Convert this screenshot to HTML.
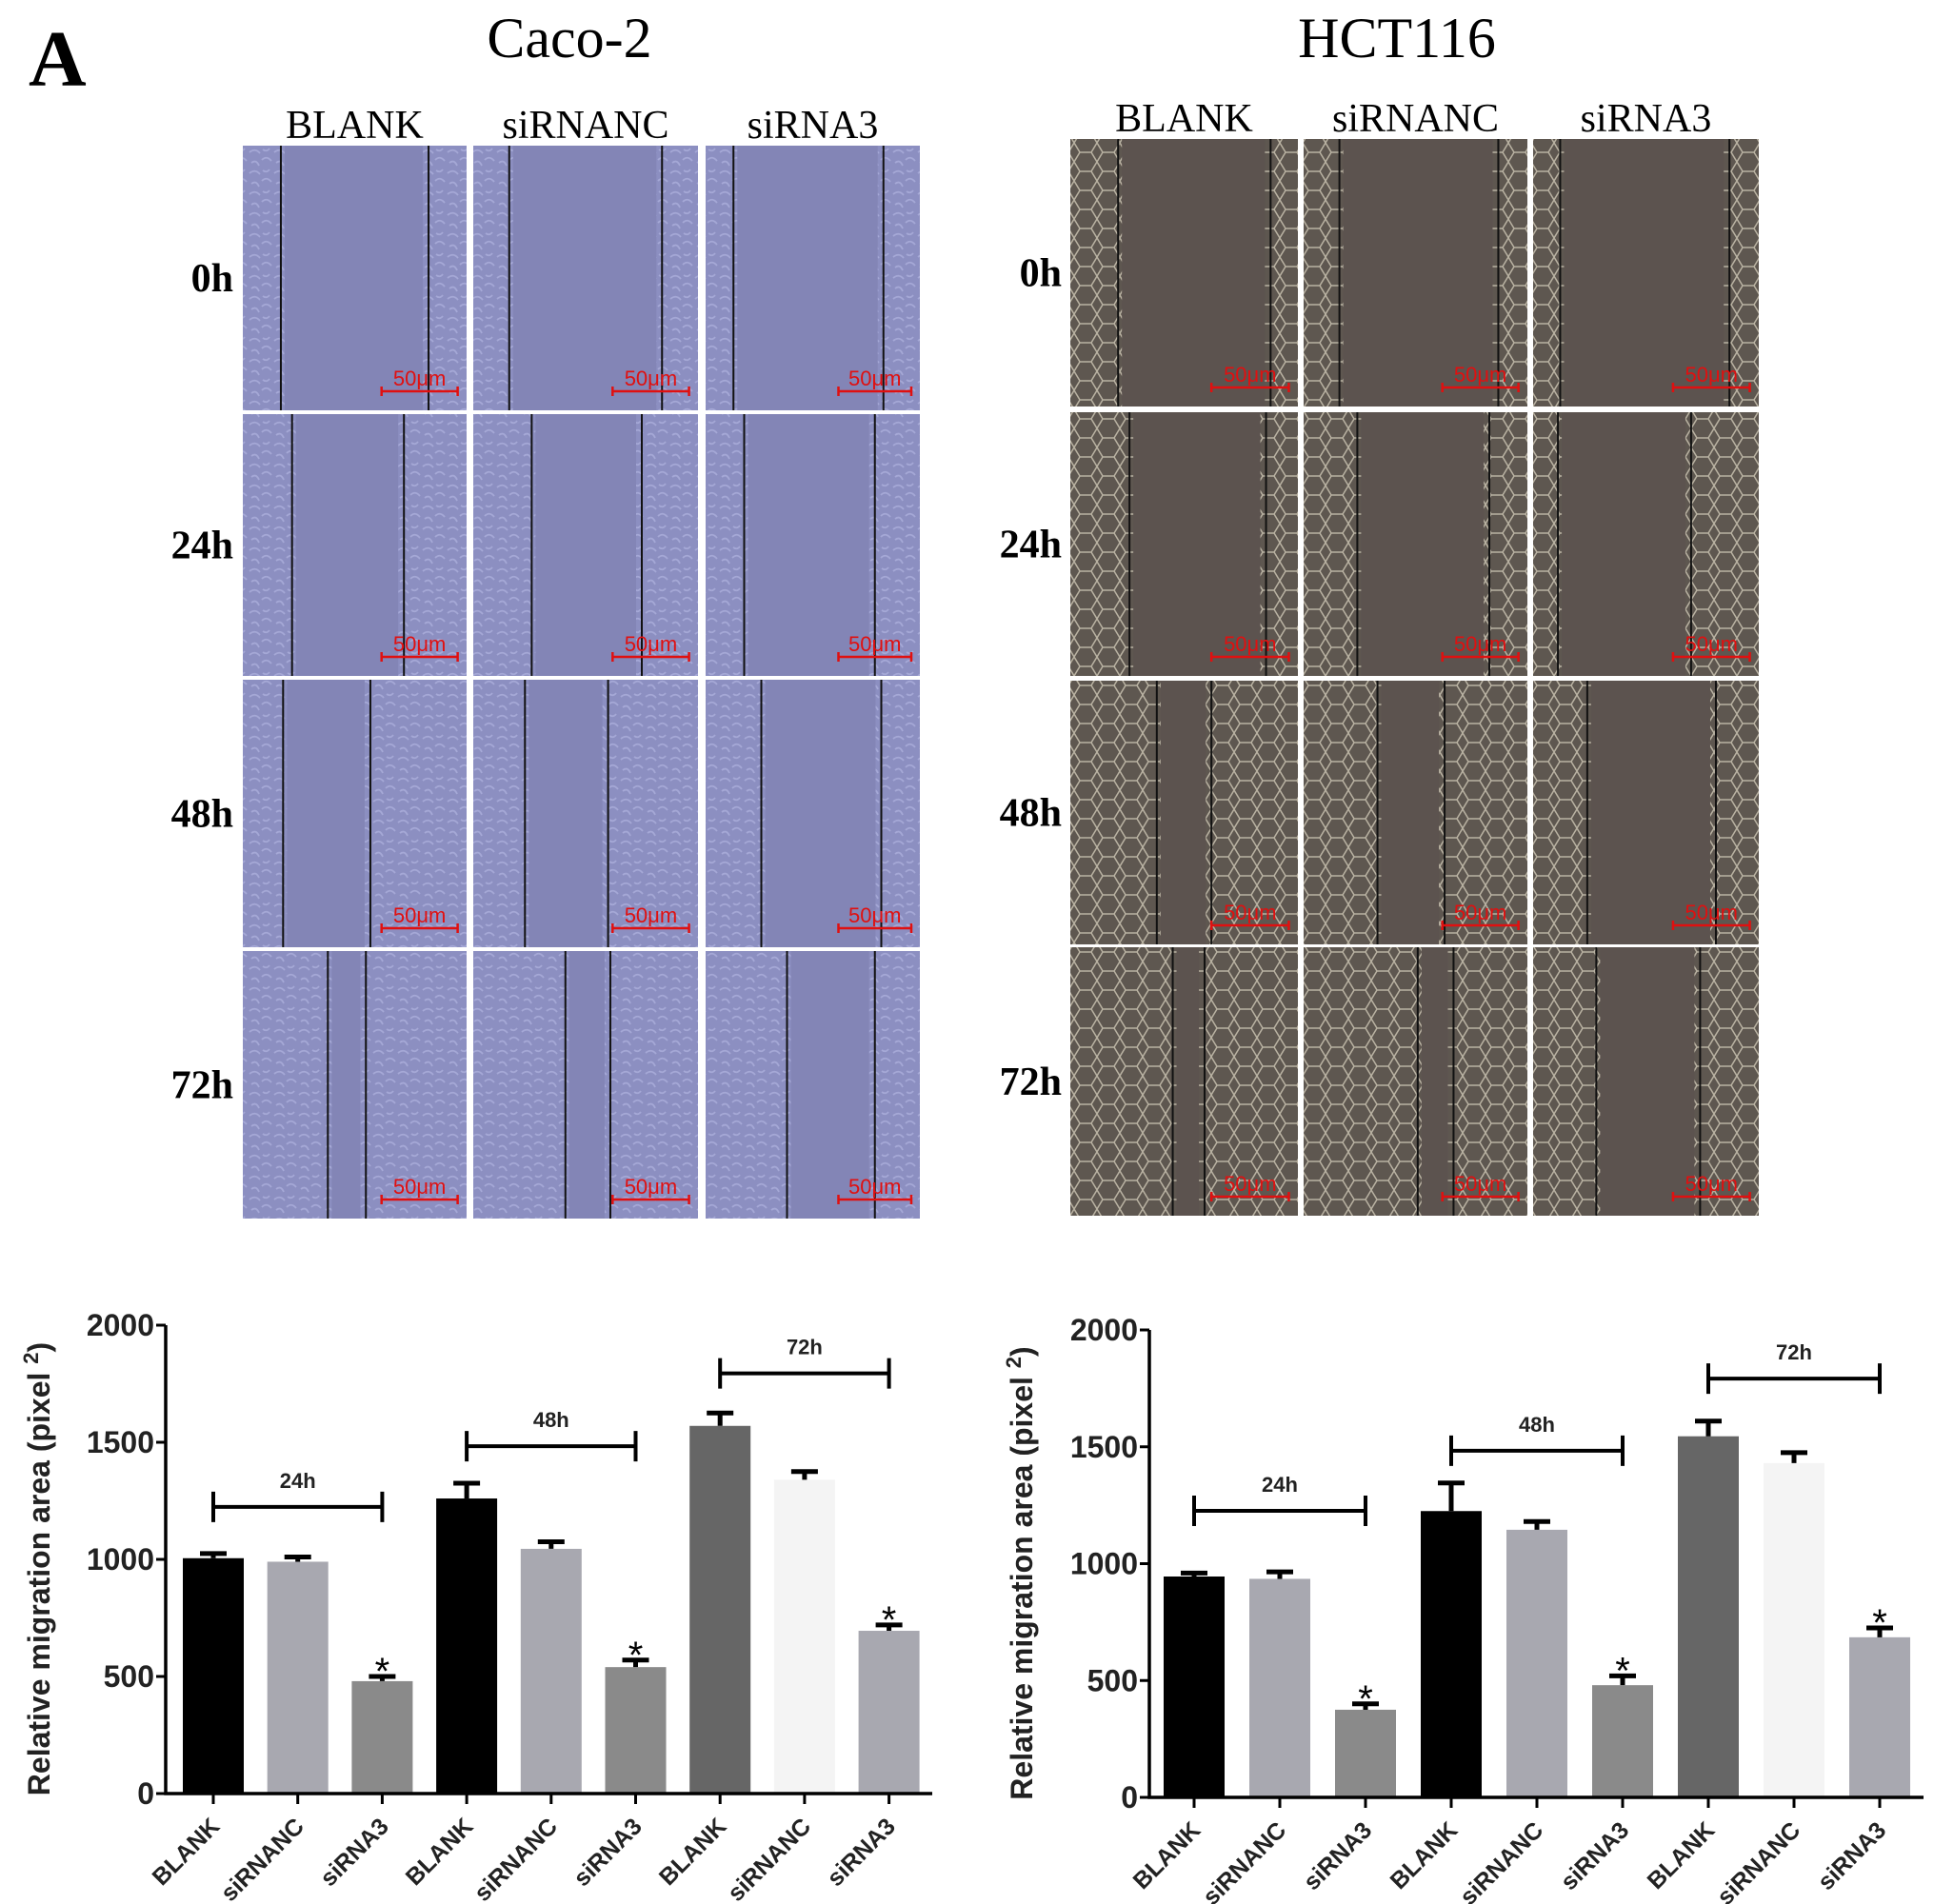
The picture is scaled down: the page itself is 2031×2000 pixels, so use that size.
<!DOCTYPE html>
<html><head><meta charset="utf-8">
<style>
html,body{margin:0;padding:0;background:#fff;}
svg{display:block;}
</style></head>
<body>
<svg id="fig" width="2031" height="2000" viewBox="0 0 2031 2000" xmlns="http://www.w3.org/2000/svg">
<defs>
<pattern id="cacoCells" width="26" height="22" patternUnits="userSpaceOnUse">
<rect width="26" height="22" fill="#8c8fc1"/>
<path d="M2 6 Q8 1 13 7 M15 14 Q20 9 25 15 M4 17 Q9 13 12 20 M16 3 Q20 6 23 2" stroke="#a5a8d6" stroke-width="1.8" fill="none"/>
</pattern>
<pattern id="hctCells" width="24" height="20" patternUnits="userSpaceOnUse">
<rect width="24" height="20" fill="#5e5750"/>
<path d="M0 10 L6 0 L18 0 L24 10 L18 20 L6 20 Z" stroke="#b9b2a2" stroke-width="1.5" fill="none"/>
</pattern>
</defs>
<text x="30" y="90" font-family="Liberation Serif, serif" font-size="84" font-weight="bold">A</text>
<text x="598" y="60" text-anchor="middle" font-family="Liberation Serif, serif" font-size="60">Caco-2</text>
<text x="1467" y="60" text-anchor="middle" font-family="Liberation Serif, serif" font-size="60">HCT116</text>
<g id="micro"></g>
<g id="charts"></g>
</svg>
<script>
// ---- Chart data ----
const categories = ["BLANK","siRNANC","siRNA3","BLANK","siRNANC","siRNA3","BLANK","siRNANC","siRNA3"];
const cacoValues = [1005, 990, 480, 1260, 1045, 540, 1570, 1340, 695];
const cacoErrors = [20, 20, 20, 65, 30, 30, 55, 35, 25];
const hctValues = [945, 935, 375, 1225, 1145, 480, 1545, 1430, 685];
const hctErrors = [15, 30, 25, 120, 35, 40, 65, 45, 40];
const yTicks = [0, 500, 1000, 1500, 2000];
const groupLabels = ["24h", "48h", "72h"];
const cacoBrackets = [1224, 1483, 1794];
const hctBrackets = [1226, 1483, 1792];
const starFlags = [0,0,1,0,0,1,0,0,1];
const rowLabels = ["0h","24h","48h","72h"];
const colLabels = ["BLANK","siRNANC","siRNA3"];

const NS = "http://www.w3.org/2000/svg";
function mk(tag, attrs, parent, txt){
  const e = document.createElementNS(NS, tag);
  for (const k in attrs) e.setAttribute(k, attrs[k]);
  if (txt !== undefined) e.textContent = txt;
  parent.appendChild(e); return e;
}
const barColors = ["#000","#a8a8b0","#8a8a8a","#000","#a8a8b0","#8a8a8a","#666","#f4f4f4","#a8a8b0"];

function drawChart(cfg){
  const g = mk("g", {}, document.getElementById("charts"));
  
  
  const y = v => cfg.y0 - v * (cfg.y0 - cfg.y2000) / 2000;
  const x = i => cfg.x0c + i * cfg.pitch;
  cfg.values.forEach((v, i) => {
    const r = mk("rect", {x: x(i) - 32, y: y(v), width: 64, height: cfg.y0 - y(v), fill: barColors[i]}, g);
    
    
    const top = y(v + cfg.errors[i]);
    const eb = mk("path", {d: `M${x(i)} ${y(v)} V${top} M${x(i)-14} ${top} H${x(i)+14}`, stroke: "#000", "stroke-width": 5, fill: "none"}, g);
    
    
    if (starFlags[i]) {
      const s = mk("text", {x: x(i), y: top + 8, "text-anchor": "middle", "font-family": "Liberation Sans, sans-serif", "font-size": 40}, g, "*");
      
      
    }
    const t = mk("text", {transform: `translate(${x(i)+8},${cfg.y0+36}) rotate(-45)`, "text-anchor": "end", "font-family": "Liberation Sans, sans-serif", "font-size": 25, "font-weight": "bold", fill: "#222"}, g, categories[i]);
    
    
    mk("line", {x1: x(i), x2: x(i), y1: cfg.y0, y2: cfg.y0 + 11, stroke: "#000", "stroke-width": 3}, g);
  });
  const ax = mk("path", {d: `M${cfg.ax} ${cfg.y2000} V${cfg.y0} H${cfg.axEnd}`, stroke: "#000", "stroke-width": 3.5, fill: "none"}, g);
  
  
  yTicks.forEach(v => {
    mk("line", {x1: cfg.ax - 10, x2: cfg.ax, y1: y(v), y2: y(v), stroke: "#000", "stroke-width": 3}, g);
    const t = mk("text", {x: cfg.ax - 12, y: y(v) + 11, "text-anchor": "end", "font-family": "Liberation Sans, sans-serif", "font-size": 32, "font-weight": "bold", fill: "#222"}, g, v);
    
    
  });
  const yt = mk("text", {transform: `translate(${cfg.titleX},${(cfg.y0+cfg.y2000)/2 + 10}) rotate(-90)`, "text-anchor": "middle", "font-family": "Liberation Sans, sans-serif", "font-size": 32, "font-weight": "bold", fill: "#222"}, g);
  
  
  yt.appendChild(document.createTextNode("Relative migration area (pixel "));
  mk("tspan", {dy: -12, "font-size": 22}, yt, "2"); mk("tspan", {dy: 12}, yt, ")");
  cfg.brackets.forEach((bv, k) => {
    const x1 = x(k*3), x2 = x(k*3+2), by = y(bv);
    const b = mk("path", {d: `M${x1} ${by-16} V${by+16} M${x1} ${by} H${x2} M${x2} ${by-16} V${by+16}`, stroke: "#000", "stroke-width": 4, fill: "none"}, g);
    
    
    const t = mk("text", {x: (x1+x2)/2, y: by - 20, "text-anchor": "middle", "font-family": "Liberation Sans, sans-serif", "font-size": 22, "font-weight": "bold", fill: "#222"}, g, groupLabels[k]);
    
    
  });
}
drawChart({name: "caco2-chart", values: cacoValues, errors: cacoErrors, brackets: cacoBrackets, y0: 1884, y2000: 1392, ax: 174, axEnd: 979, x0c: 224, pitch: 88.7, titleX: 52});
drawChart({name: "hct116-chart", values: hctValues, errors: hctErrors, brackets: hctBrackets, y0: 1888, y2000: 1397, ax: 1207, axEnd: 2020, x0c: 1254, pitch: 90, titleX: 1084});

// ---- micrographs ----
const cacoCols = [[255,490],[497,733],[741,966]];
const cacoRows = [[153,431],[435,710],[714,995],[999,1280]];
const hctCols = [[1124,1363],[1369,1604],[1610,1847]];
const hctRows = [[146,427],[433,710],[715,992],[995,1277]];
const cacoLines = [[[.17,.83],[.16,.84],[.13,.83]],[[.22,.72],[.26,.75],[.18,.79]],[[.18,.57],[.23,.60],[.26,.82]],[[.38,.55],[.41,.61],[.38,.79]]];
const hctLines = [[[.21,.88],[.16,.87],[.12,.87]],[[.26,.86],[.24,.83],[.11,.70]],[[.38,.62],[.33,.63],[.24,.81]],[[.45,.59],[.51,.67],[.28,.74]]];
const M = document.getElementById("micro");
function panels(cols, rows, lines, pat, gap, prefix, rowLabX, colLabY){
  cols.forEach((c, j) => {
    const t = mk("text", {x: (c[0]+c[1])/2, y: colLabY, "text-anchor": "middle", "font-family": "Liberation Serif, serif", "font-size": 42}, M, colLabels[j]);
    
    
  });
  rows.forEach((r, i) => {
    const t = mk("text", {x: rowLabX, y: (r[0]+r[1])/2 + 14, "text-anchor": "end", "font-family": "Liberation Serif, serif", "font-size": 42, "font-weight": "bold"}, M, rowLabels[i]);
    
    
    cols.forEach((c, j) => {
      const w = c[1]-c[0], h = r[1]-r[0];
      const g = mk("g", {}, M);
      
      
      mk("rect", {x: c[0], y: r[0], width: w, height: h, fill: `url(#${pat})`}, g);
      const l = lines[i][j];
      const lx = c[0] + l[0]*w, rx = c[0] + l[1]*w;
      mk("rect", {x: lx + 4, y: r[0], width: rx - lx - 10, height: h, fill: gap}, g);
      mk("line", {x1: lx, x2: lx, y1: r[0], y2: r[1], stroke: "#111", "stroke-width": 2}, g);
      mk("line", {x1: rx, x2: rx, y1: r[0], y2: r[1], stroke: "#111", "stroke-width": 2}, g);
      const sx1 = c[0] + w*0.62, sx2 = c[0] + w*0.96, sy = r[1] - 20;
      mk("path", {d: `M${sx1} ${sy} H${sx2} M${sx1} ${sy-5} V${sy+5} M${sx2} ${sy-5} V${sy+5}`, stroke: "#e01010", "stroke-width": 2.5, fill: "none"}, g);
      const sb = mk("text", {x: (sx1+sx2)/2, y: sy - 6, "text-anchor": "middle", "font-family": "Liberation Sans, sans-serif", "font-size": 22, fill: "#e01010"}, g, "50μm");
      
      
    });
  });
}
panels(cacoCols, cacoRows, cacoLines, "cacoCells", "#8385b6", "caco2", 245, 145);
panels(hctCols, hctRows, hctLines, "hctCells", "#5c534f", "hct116", 1115, 138);
</script>
</body></html>
